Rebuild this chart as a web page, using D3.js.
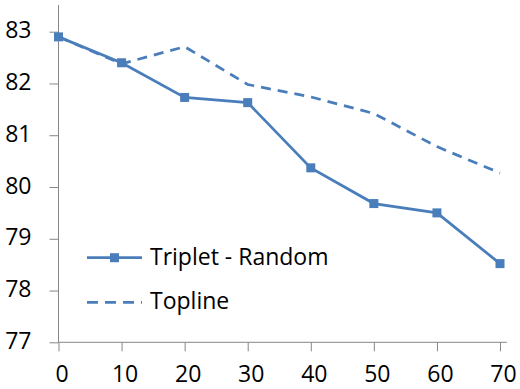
<!DOCTYPE html>
<html>
<head>
<meta charset="utf-8">
<script src="https://cdn.jsdelivr.net/npm/d3@7"></script>
<style>
  body { margin: 0; background: #fff; }
  text { font-family: "Open Sans", "DejaVu Sans", sans-serif; }
</style>
</head>
<body>
<svg id="chart"></svg>
<script>
const xValues = [0, 10, 20, 30, 40, 50, 60, 70];
const tripletRandom = [82.90, 82.40, 81.73, 81.63, 80.37, 79.68, 79.50, 78.52];
const topline = [82.90, 82.38, 82.71, 81.98, 81.74, 81.42, 80.78, 80.27];
const yTicks = [77, 78, 79, 80, 81, 82, 83];
const seriesNames = ['Triplet - Random', 'Topline'];

const width = 520, height = 389;
const blue = '#4a7ebb';
const fontSize = 23;

const svg = d3.select('#chart')
    .attr('width', width)
    .attr('height', height);

const x = d3.scaleLinear().domain([0, 70]).range([58.5, 500]);
const y = d3.scaleLinear().domain([77, 83]).range([342.3, 31.7]);

// axes
const xAxis = d3.axisBottom(x).tickValues(xValues).tickFormat(d3.format('d')).tickSize(9).tickSizeOuter(0);
const yAxis = d3.axisLeft(y).tickValues(yTicks).tickFormat(d3.format('d')).tickSize(9).tickSizeOuter(0);

const gx = svg.append('g')
    .attr('transform', `translate(0,${y(77)})`)
    .call(xAxis);
gx.select('.domain').attr('d', `M${x(0)},0H507`);

const gy = svg.append('g')
    .attr('transform', `translate(${x(0)},0)`)
    .call(yAxis);
gy.select('.domain').attr('d', `M0,${y(77)}V5`);

svg.selectAll('.domain, .tick line')
    .attr('stroke', '#868686')
    .attr('stroke-width', 1);
gx.selectAll('.tick text')
    .attr('font-size', fontSize)
    .attr('fill', '#000')
    .attr('x', 3)
    .attr('y', 39.5)
    .attr('dy', 0);
gy.selectAll('.tick text')
    .attr('font-size', fontSize)
    .attr('fill', '#000')
    .attr('x', -27)
    .attr('dy', '0.27em');

const line = d3.line()
    .x((d, i) => x(xValues[i]))
    .y(d => y(d));

// topline (dashed)
svg.append('path')
    .datum(topline)
    .attr('fill', 'none')
    .attr('stroke', blue)
    .attr('stroke-width', 2.75)
    .attr('stroke-dasharray', '10,7')
    .attr('d', line);

// triplet - random (solid with square markers)
svg.append('path')
    .datum(tripletRandom)
    .attr('fill', 'none')
    .attr('stroke', blue)
    .attr('stroke-width', 2.75)
    .attr('d', line);

const ms = 9;
svg.selectAll('.marker')
    .data(tripletRandom)
    .enter().append('rect')
    .attr('class', 'marker')
    .attr('x', (d, i) => x(xValues[i]) - ms / 2)
    .attr('y', d => y(d) - ms / 2)
    .attr('width', ms)
    .attr('height', ms)
    .attr('fill', blue);

// legend
const legend = svg.append('g');
const legendRows = [
    { name: seriesNames[0], dash: null, marker: true, yy: 257.7 },
    { name: seriesNames[1], dash: '11,7', marker: false, yy: 302.3 }
];
legendRows.forEach(r => {
    legend.append('line')
        .attr('x1', 87).attr('x2', 142)
        .attr('y1', r.yy).attr('y2', r.yy)
        .attr('stroke', blue)
        .attr('stroke-width', 2.75)
        .attr('stroke-dasharray', r.dash);
    if (r.marker) {
        legend.append('rect')
            .attr('x', 114.5 - ms / 2).attr('y', r.yy - ms / 2)
            .attr('width', ms).attr('height', ms)
            .attr('fill', blue);
    }
    legend.append('text')
        .attr('x', 150)
        .attr('y', r.yy)
        .attr('dy', '0.3em')
        .attr('font-size', fontSize)
        .attr('fill', '#000')
        .text(r.name);
});
</script>
</body>
</html>
